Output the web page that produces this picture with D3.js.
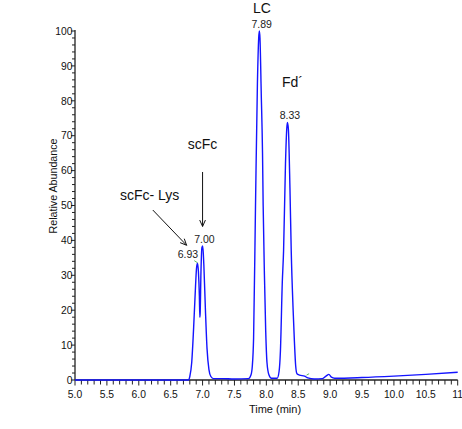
<!DOCTYPE html>
<html>
<head>
<meta charset="utf-8">
<script src="https://cdn.jsdelivr.net/npm/d3@7"></script>
<style>
  html, body { margin: 0; padding: 0; background: #fff; }
  svg { display: block; font-family: "Liberation Sans", Arial, sans-serif; }
</style>
</head>
<body>
<svg id="chart" width="462" height="429"></svg>
<script>
// ---- data ----
const times = [5.0, 6.78, 6.80, 6.83, 6.86, 6.89, 6.905, 6.92, 6.935, 6.95, 6.957, 6.962, 6.975, 6.99, 7.003, 7.02, 7.045, 7.07, 7.10, 7.13, 7.17, 7.3, 7.5, 7.72, 7.76, 7.78, 7.80, 7.83, 7.86, 7.88, 7.89, 7.90, 7.92, 7.94, 7.95, 7.97, 7.99, 8.01, 8.04, 8.08, 8.17, 8.20, 8.22, 8.25, 8.27, 8.30, 8.32, 8.33, 8.345, 8.37, 8.39, 8.42, 8.44, 8.46, 8.48, 8.52, 8.6, 8.65, 8.75, 8.88, 8.94, 8.98, 9.02, 9.07, 9.5, 10.0, 10.5, 11.0];
const abundance = [0, 0, 1, 5, 15, 27, 32, 33.5, 31, 24, 18, 19, 31, 38, 38.4, 33, 20, 9, 3, 1, 0.4, 0.4, 0.3, 0.4, 1.5, 4, 12, 50, 85, 98, 100, 98, 82, 65, 50, 30, 14, 5, 1.5, 0.5, 0.5, 2.5, 8, 28, 37, 62, 72, 73.8, 72, 55, 37, 20, 11, 4, 1.8, 1.4, 1.1, 0.6, 0.3, 0.4, 1.2, 1.6, 0.8, 0.5, 0.7, 1.1, 1.6, 2.2];

const xTickLabels = ["5.0", "5.5", "6.0", "6.5", "7.0", "7.5", "8.0", "8.5", "9.0", "9.5", "10.0", "10.5", "11"];
const yTickLabels = ["0", "10", "20", "30", "40", "50", "60", "70", "80", "90", "100"];

// peak retention-time labels
const peakLabelTimes = [6.77, 7.03, 7.926, 8.37];
const peakLabelValues = [35.0, 39.2, 101.0, 74.7];
const peakLabelTexts = ["6.93", "7.00", "7.89", "8.33"];

// species names
const nameTimes = [6.17, 7.0, 7.93, 8.41];
const nameValues = [51.6, 66.1, 105.2, 84.0];
const nameTexts = ["scFc- Lys", "scFc", "LC", "Fd\u00B4"];

// arrows [x1, y1, x2, y2] in data units
const arrows = [[6.22, 48.7, 6.75, 38.6], [7.0, 59.6, 7.0, 44.0]];

// small green integration marks
const markSegs = [[6.87, 34.2, 6.92, 33.6], [8.63, 1.4, 8.67, 1.8]];

// ---- layout ----
const svg = d3.select("#chart");
const x = d3.scaleLinear().domain([5, 11]).range([75, 457.7]);
const y = d3.scaleLinear().domain([0, 100]).range([380, 31]);

const axisColor = "#222";

// Y axis
const yMinor = d3.range(0, 101, 2);
const yAxis = svg.append("g");
yAxis.append("line").attr("x1", x(5)).attr("x2", x(5)).attr("y1", y(0)).attr("y2", y(100) - 1)
  .attr("stroke", axisColor).attr("stroke-width", 1.3);
yAxis.selectAll("line.t").data(yMinor).join("line").attr("class", "t")
  .attr("x1", d => x(5) - (d % 10 === 0 ? 4 : 3)).attr("x2", x(5))
  .attr("y1", d => y(d)).attr("y2", d => y(d))
  .attr("stroke", axisColor).attr("stroke-width", 1);
yAxis.selectAll("text").data(yTickLabels).join("text")
  .attr("x", x(5) - 2.5).attr("y", d => y(+d)).attr("dy", "0.36em")
  .attr("text-anchor", "end").attr("font-size", "10.3px").attr("fill", "#111").text(d => d);

// X axis
const xMinor = d3.range(50, 111, 1).map(d => d / 10);
const xAxis = svg.append("g");
xAxis.append("line").attr("x1", x(5)).attr("x2", x(11)).attr("y1", y(0)).attr("y2", y(0))
  .attr("stroke", axisColor).attr("stroke-width", 1.3);
xAxis.selectAll("line.t").data(xMinor).join("line").attr("class", "t")
  .attr("x1", d => x(d)).attr("x2", d => x(d))
  .attr("y1", y(0)).attr("y2", d => y(0) + (Math.round(d * 10) % 5 === 0 ? 5.5 : 4.5))
  .attr("stroke", axisColor).attr("stroke-width", 1);
xAxis.selectAll("text").data(xTickLabels).join("text")
  .attr("x", d => x(+d)).attr("y", 398.3)
  .attr("text-anchor", "middle").attr("font-size", "10.3px").attr("fill", "#111").text(d => d);

// axis titles
svg.append("text").attr("x", 275).attr("y", 412.7).attr("text-anchor", "middle")
  .attr("font-size", "11px").attr("fill", "#111").text("Time (min)");
svg.append("text").attr("transform", "translate(56.5,186) rotate(-90)").attr("text-anchor", "middle")
  .attr("font-size", "10.7px").attr("fill", "#111").text("Relative Abundance");

// trace
const pts = times.map((t, i) => [t, abundance[i]]);
const line = d3.line().x(d => x(d[0])).y(d => y(d[1])).curve(d3.curveMonotoneX);
svg.append("path").datum(pts).attr("d", line).attr("fill", "none")
  .attr("stroke", "#1414ff").attr("stroke-width", 1.4).attr("stroke-linejoin", "round");

// green marks
svg.selectAll("line.mk").data(markSegs).join("line").attr("class", "mk")
  .attr("x1", d => x(d[0])).attr("y1", d => y(d[1])).attr("x2", d => x(d[2])).attr("y2", d => y(d[3]))
  .attr("stroke", "#5cc05c").attr("stroke-width", 1);

// peak labels
svg.selectAll("text.pk").data(peakLabelTexts).join("text").attr("class", "pk")
  .attr("x", (d, i) => x(peakLabelTimes[i])).attr("y", (d, i) => y(peakLabelValues[i]))
  .attr("text-anchor", "middle").attr("font-size", "10.5px").attr("fill", "#222").text(d => d);

// names
svg.selectAll("text.nm").data(nameTexts).join("text").attr("class", "nm")
  .attr("x", (d, i) => x(nameTimes[i])).attr("y", (d, i) => y(nameValues[i]))
  .attr("text-anchor", "middle").attr("font-size", "14px").attr("fill", "#111").text(d => d);

// arrows
arrows.forEach(a => {
  const x1 = x(a[0]), y1 = y(a[1]), x2 = x(a[2]), y2 = y(a[3]);
  const ang = Math.atan2(y2 - y1, x2 - x1);
  const L = 7, spread = 0.42;
  svg.append("line").attr("x1", x1).attr("y1", y1).attr("x2", x2).attr("y2", y2)
    .attr("stroke", "#111").attr("stroke-width", 1);
  const p1 = [x2 - L * Math.cos(ang - spread), y2 - L * Math.sin(ang - spread)];
  const p2 = [x2 - L * Math.cos(ang + spread), y2 - L * Math.sin(ang + spread)];
  svg.append("path").attr("d", `M${p1[0]},${p1[1]}L${x2},${y2}L${p2[0]},${p2[1]}`)
    .attr("fill", "none").attr("stroke", "#111").attr("stroke-width", 1);
});
</script>
</body>
</html>
